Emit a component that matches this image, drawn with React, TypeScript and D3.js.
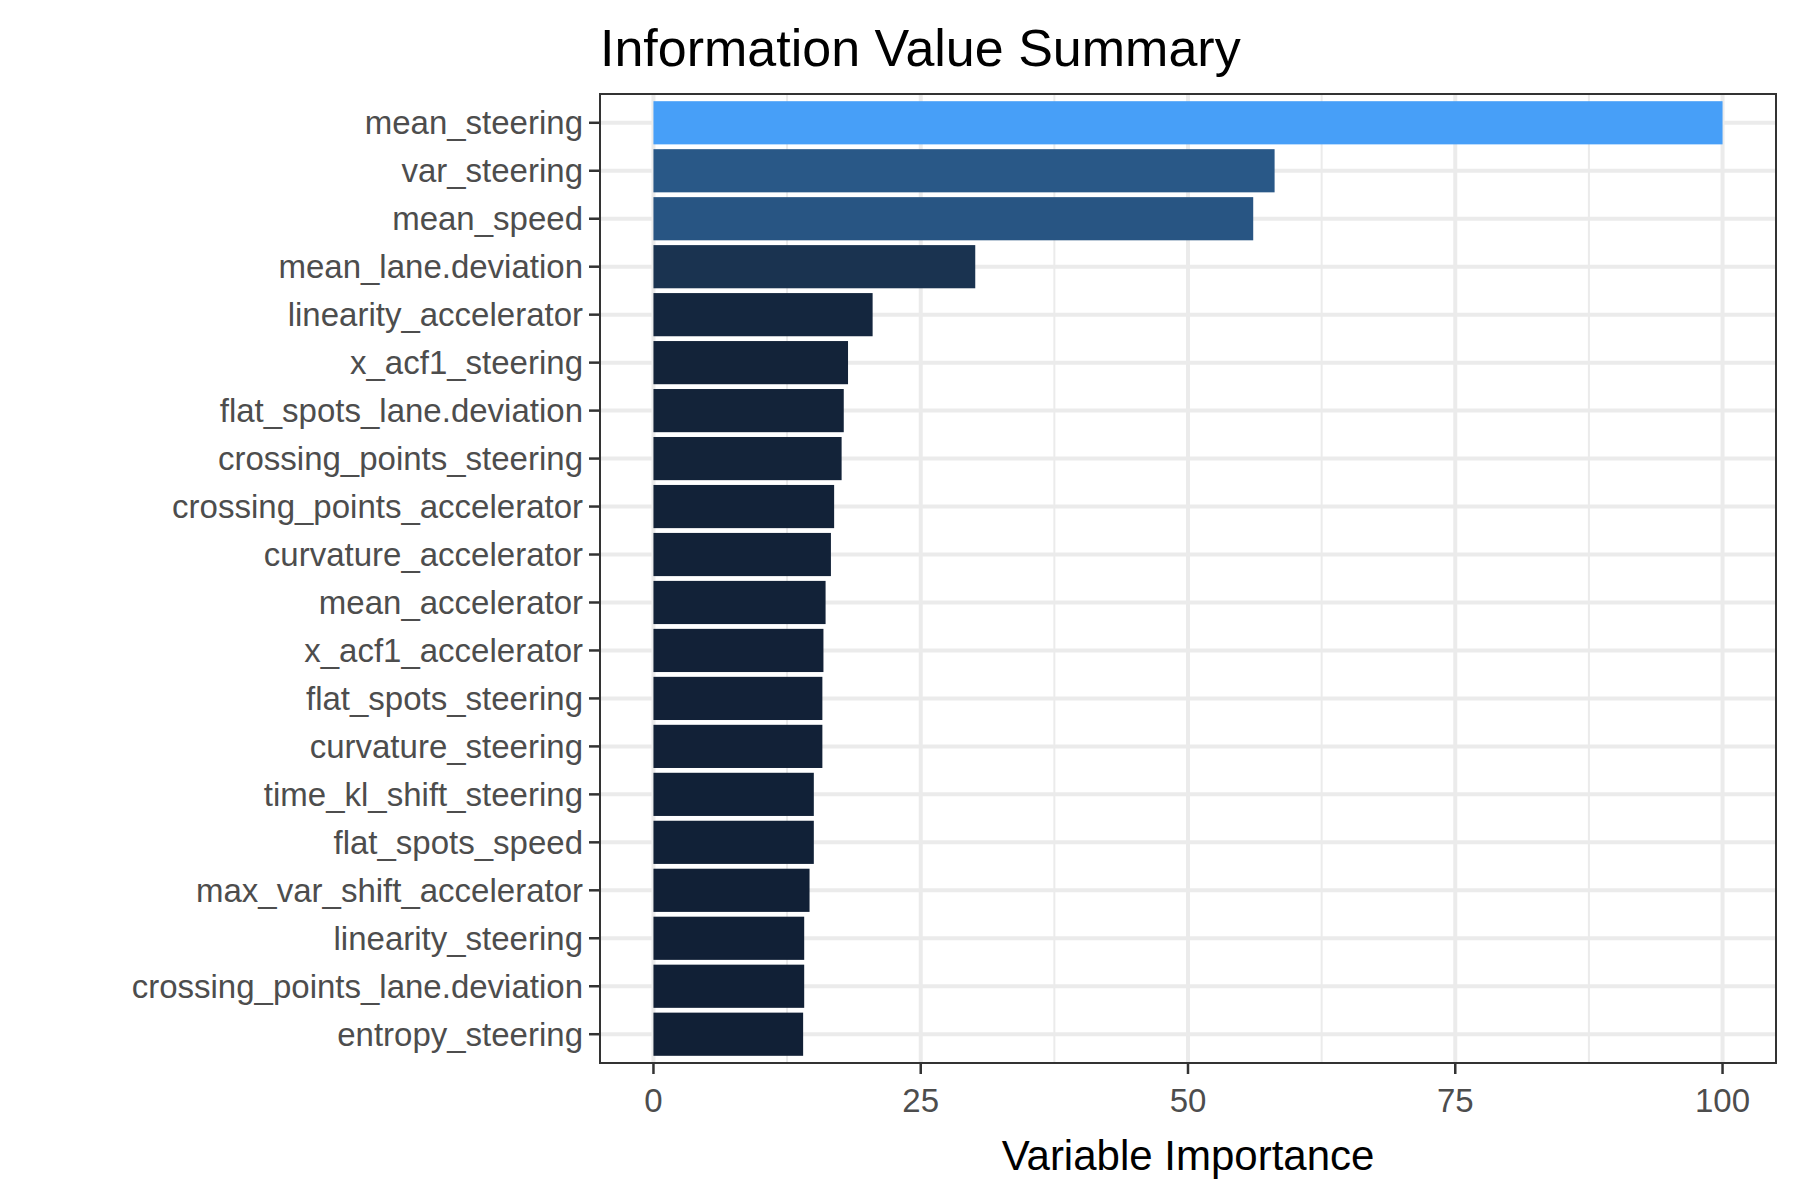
import React from "react";
import * as d3 from "d3";

const categories = ["mean_steering","var_steering","mean_speed","mean_lane.deviation","linearity_accelerator","x_acf1_steering","flat_spots_lane.deviation","crossing_points_steering","crossing_points_accelerator","curvature_accelerator","mean_accelerator","x_acf1_accelerator","flat_spots_steering","curvature_steering","time_kl_shift_steering","flat_spots_speed","max_var_shift_accelerator","linearity_steering","crossing_points_lane.deviation","entropy_steering"];
const values = [100,58.1,56.1,30.1,20.5,18.2,17.8,17.6,16.9,16.6,16.1,15.9,15.8,15.8,15.0,15.0,14.6,14.1,14.1,14.0];
const xTicks = [0,25,50,75,100];
const xMinor = [12.5,37.5,62.5,87.5];
const colorStops = [14, 18, 30, 58, 100];
const colorValues = ["#112036", "#132339", "#1A3350", "#295887", "#479FF8"];

export default function App() {
  const W = 1800, H = 1200;
  const L = 600, T = 94, R = 1776, B = 1063;
  const x = d3.scaleLinear().domain([-5,105]).range([L,R]);
  const step = (B - T) / (categories.length - 1 + 1.2);
  const yc = (i: number) => T + step * (0.6 + i);
  const bh = step * 0.9;
  const col = d3.scaleLinear<string>().domain(colorStops).range(colorValues).interpolate(d3.interpolateLab).clamp(true);
  const font = "Liberation Sans, Arial, sans-serif";
  return (
    <svg width={W} height={H} style={{display:"block", position:"absolute", left:0, top:0}} fontFamily={font}>
      <rect width={W} height={H} fill="white"/>
      {xMinor.map(v => <line key={"m"+v} x1={x(v)} x2={x(v)} y1={T} y2={B} stroke="#EBEBEB" strokeWidth={2}/>)}
      {xTicks.map(v => <line key={"g"+v} x1={x(v)} x2={x(v)} y1={T} y2={B} stroke="#EBEBEB" strokeWidth={4}/>)}
      {categories.map((c,i) => <line key={"h"+c} x1={L} x2={R} y1={yc(i)} y2={yc(i)} stroke="#EBEBEB" strokeWidth={4}/>)}
      {categories.map((c,i) => <rect key={c} x={x(0)} y={yc(i)-bh/2} width={x(values[i])-x(0)} height={bh} fill={col(values[i])}/>)}
      <rect x={L} y={T} width={R-L} height={B-T} fill="none" stroke="#333" strokeWidth={2}/>
      {categories.map((c,i) => (
        <g key={"t"+c}>
          <line x1={L-11} x2={L} y1={yc(i)} y2={yc(i)} stroke="#333" strokeWidth={2.5}/>
          <text x={L-17} y={yc(i)} dy="0.35em" textAnchor="end" fontSize={33} fill="#4D4D4D">{c}</text>
        </g>
      ))}
      {xTicks.map(v => (
        <g key={"xt"+v}>
          <line x1={x(v)} x2={x(v)} y1={B} y2={B+11} stroke="#333" strokeWidth={2.5}/>
          <text x={x(v)} y={1112} textAnchor="middle" fontSize={33} fill="#4D4D4D">{v}</text>
        </g>
      ))}
      <text x={(L+R)/2} y={1170} textAnchor="middle" fontSize={42} fill="black">Variable Importance</text>
      <text x={L} y={66} fontSize={52} fill="black">Information Value Summary</text>
    </svg>
  );
}
